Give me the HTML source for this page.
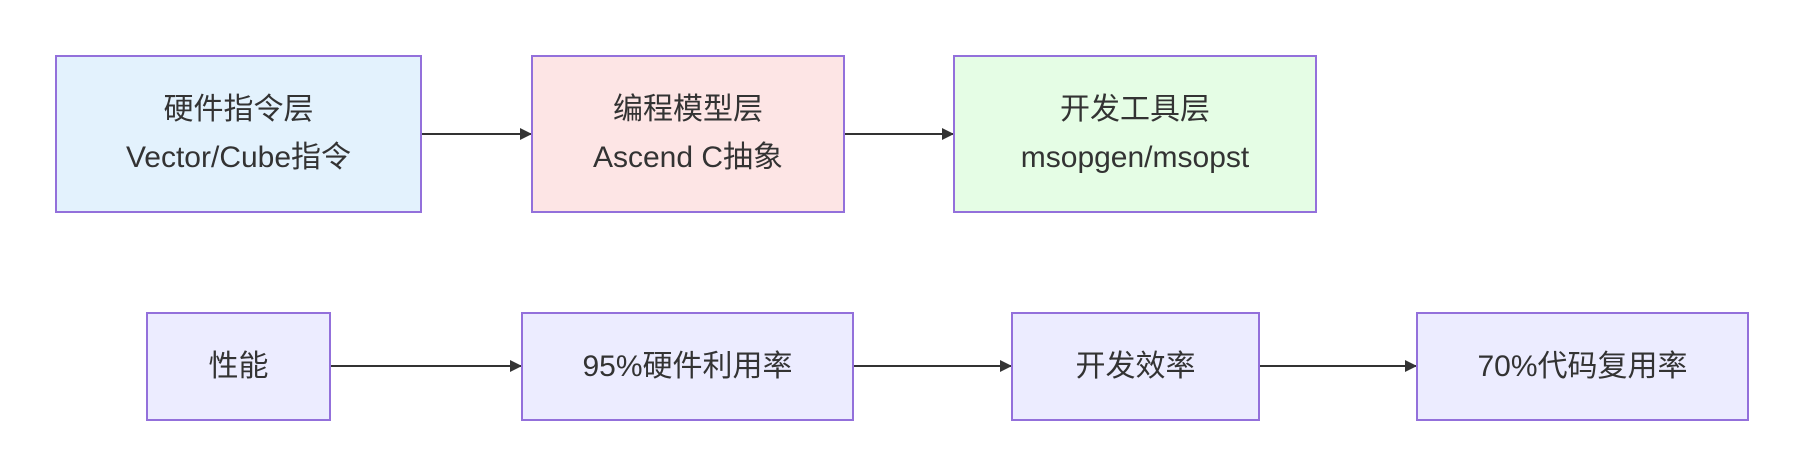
<!DOCTYPE html>
<html><head><meta charset="utf-8"><style>
html,body{margin:0;padding:0;background:#fff;width:1805px;height:475px;overflow:hidden}
.b{position:absolute;box-sizing:border-box;border:2px solid #9370DB;display:flex;align-items:center;justify-content:center;text-align:center;color:#333;font-family:"Liberation Sans","Noto Sans CJK SC",sans-serif;font-size:30px;line-height:48px}
svg{position:absolute;left:0;top:0}
</style></head><body>
<svg width="1805" height="475">
<defs><marker id="a" markerWidth="12" markerHeight="12" refX="11" refY="6" orient="auto" markerUnits="userSpaceOnUse"><path d="M0,0 L12,6 L0,12 z" fill="#333"/></marker></defs>
<g stroke="#333" stroke-width="2" marker-end="url(#a)">
<line x1="422" y1="134" x2="531" y2="134"/>
<line x1="844" y1="134" x2="953" y2="134"/>
<line x1="330" y1="366" x2="521" y2="366"/>
<line x1="853" y1="366" x2="1011" y2="366"/>
<line x1="1259" y1="366" x2="1416" y2="366"/>
</g></svg>
<div class="b" style="left:55px;top:55px;width:367px;height:158px;background:#E3F2FD">硬件指令层<br>Vector/Cube指令</div>
<div class="b" style="left:531px;top:55px;width:314px;height:158px;background:#FDE5E5">编程模型层<br>Ascend C抽象</div>
<div class="b" style="left:953px;top:55px;width:364px;height:158px;background:#E5FDE5">开发工具层<br>msopgen/msopst</div>
<div class="b" style="left:146px;top:312px;width:185px;height:109px;background:#ECECFF">性能</div>
<div class="b" style="left:521px;top:312px;width:333px;height:109px;background:#ECECFF">95%硬件利用率</div>
<div class="b" style="left:1011px;top:312px;width:249px;height:109px;background:#ECECFF">开发效率</div>
<div class="b" style="left:1416px;top:312px;width:333px;height:109px;background:#ECECFF">70%代码复用率</div>
</body></html>
